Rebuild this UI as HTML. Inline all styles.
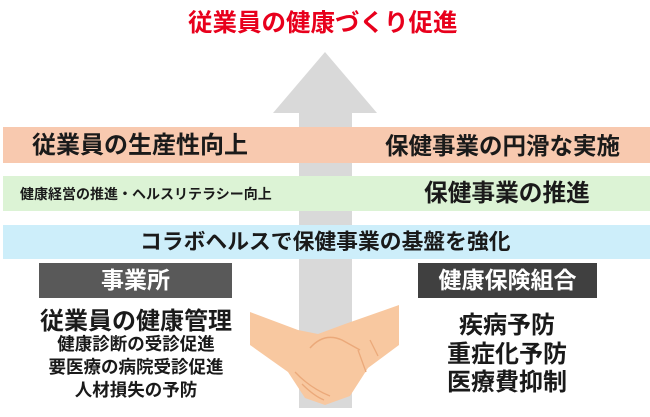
<!DOCTYPE html>
<html><head><meta charset="utf-8"><style>
body{margin:0;width:650px;height:417px;background:#fff;position:relative;overflow:hidden;font-family:"Liberation Sans","Noto Sans CJK JP",sans-serif;font-weight:bold;color:#1a1a1a}
.a{position:absolute;white-space:nowrap}
</style></head><body>
<div class="a" style="left:188px;top:7px;color:#e8001c;font-size:24.5px;line-height:34px">従業員の健康づくり促進</div>
<svg class="a" style="left:0;top:0" width="650" height="417">
<polygon points="325,52 377,113 352,113 352,408 299,408 299,113 273,113" fill="#d9d9d9"/>
</svg>
<div class="a" style="left:3px;width:647px;top:127px;height:36px;background:#f8c9af"></div>
<div class="a" style="left:32px;top:129px;font-size:24px;line-height:34px">従業員の生産性向上</div>
<div class="a" style="left:385px;top:129px;font-size:23.5px;line-height:34px">保健事業の円滑な実施</div>
<div class="a" style="left:3px;width:647px;top:176px;height:35px;background:#dcf3d5"></div>
<div class="a" style="left:20px;top:183px;font-size:14px;line-height:22px">健康経営の推進・ヘルスリテラシー向上</div>
<div class="a" style="left:424px;top:177px;font-size:23.7px;line-height:34px">保健事業の推進</div>
<div class="a" style="left:3px;width:647px;top:225px;height:34px;background:#cdeefa"></div>
<div class="a" style="left:140px;top:226px;font-size:21.8px;line-height:32px">コラボヘルスで保健事業の基盤を強化</div>
<div class="a" style="left:39px;width:193px;top:263px;height:35px;background:#595959;color:#fff;text-align:center;font-size:23px;line-height:35px">事業所</div>
<div class="a" style="left:418px;width:179px;top:263px;height:35px;background:#404040;color:#fff;text-align:center;font-size:23px;line-height:35px">健康保険組合</div>
<div class="a" style="left:36px;width:200px;top:305px;text-align:center;font-size:24px;line-height:34px">従業員の健康管理</div>
<div class="a" style="left:36px;width:200px;top:333px;text-align:center;font-size:17.5px;line-height:23px">健康診断の受診促進<br>要医療の病院受診促進<br>人材損失の予防</div>
<div class="a" style="left:407px;width:200px;top:312px;text-align:center;font-size:24px;line-height:28.5px">疾病予防<br>重症化予防<br>医療費抑制</div>
<svg class="a" style="left:0;top:0" width="650" height="417">
<path d="M250,312 L298,330 L318,334 L345,324 L399,305 L399,345 L368,368 L350,396 L325,405 L305,398 L288,372 L250,345 Z" fill="#f8c8a0"/>
<path d="M310,348 Q324,332 342,340 L360,350" fill="none" stroke="#eba97a" stroke-width="1.5"/>
<path d="M295,372 Q310,388 330,396 M302,384 Q314,396 324,400" fill="none" stroke="#eba97a" stroke-width="1.3"/>
<path d="M358,350 L366,372 M370,340 L378,356" fill="none" stroke="#eba97a" stroke-width="1.3"/>
</svg>
</body></html>
